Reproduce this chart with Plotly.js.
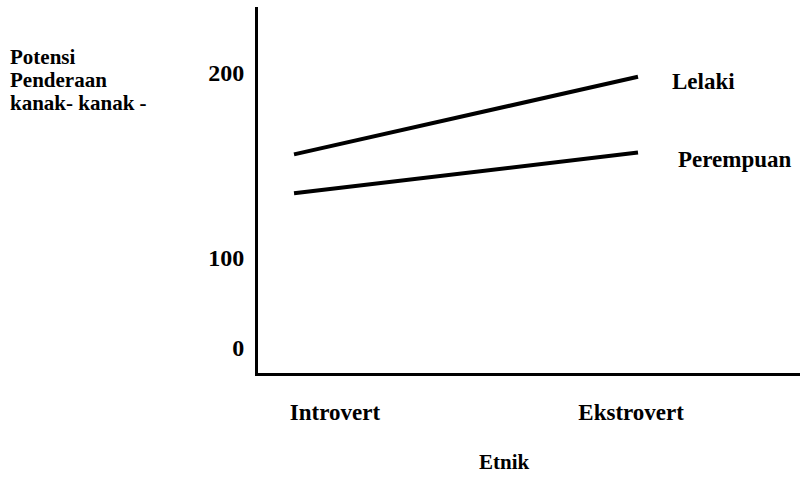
<!DOCTYPE html>
<html>
<head>
<meta charset="utf-8">
<script src="https://cdn.plot.ly/plotly-3.0.1.min.js"></script>
<style>html,body{margin:0;padding:0;background:#fff;}#chart{width:804px;height:485px;}</style>
</head>
<body>
<div id="chart"></div>
<script>
// Data
const categories = ['Introvert', 'Ekstrovert'];
const seriesNames = ['Lelaki', 'Perempuan'];
const lelaki = [156, 198];
const perempuan = [135, 157];
const yTickLabels = ['0', '100', '200'];
const yTitleLines = ['Potensi', 'Penderaan', 'kanak- kanak -'];
const xTitle = 'Etnik';

// Layout constants (positions/styles)
const FONT = '"Liberation Serif", "Times New Roman", serif';
const lineX = [0, 1];               // category index of line end points
const xTickPos = [0.119, 0.98];     // where the category labels sit
const yTickPos = [51.4, 100, 200];  // schematic (broken) axis tick positions

const traces = [
  {x: lineX, y: lelaki, name: seriesNames[0], mode: 'lines', line: {color: '#000', width: 4}, hoverinfo: 'skip'},
  {x: lineX, y: perempuan, name: seriesNames[1], mode: 'lines', line: {color: '#000', width: 4}, hoverinfo: 'skip'}
];

const bold = (size) => ({family: FONT, size: size, color: '#000', weight: 'bold'});

const annotations = [
  {x: 1, y: lelaki[1], xref: 'x', yref: 'y', text: seriesNames[0], showarrow: false,
   xanchor: 'left', yanchor: 'middle', xshift: 32, yshift: -5, font: bold(23)},
  {x: 1, y: perempuan[1], xref: 'x', yref: 'y', text: seriesNames[1], showarrow: false,
   xanchor: 'left', yanchor: 'middle', xshift: 38, yshift: -7, font: bold(23)}
];

const plotTop = 7, plotL = 258, plotW = 804 - 258 - 4, plotH = 485 - 7 - 112;
const px2paperX = (px) => (px - plotL) / plotW;
const px2paperY = (py) => (plotTop + plotH - py) / plotH;

yTitleLines.forEach((t, i) => {
  annotations.push({x: px2paperX(8), y: px2paperY(57 + 23 * i),
    xref: 'paper', yref: 'paper', text: t, showarrow: false,
    xanchor: 'left', yanchor: 'middle', font: bold(21)});
});
annotations.push({x: px2paperX(504), y: px2paperY(462), xref: 'paper', yref: 'paper',
  text: xTitle, showarrow: false, xanchor: 'center', yanchor: 'middle', font: bold(21)});

const layout = {
  width: 804, height: 485,
  margin: {l: 258, r: 4, t: 7, b: 112},
  paper_bgcolor: '#fff', plot_bgcolor: '#fff',
  showlegend: false,
  font: bold(23),
  xaxis: {
    range: [-0.1047, 1.471],
    tickvals: xTickPos, ticktext: categories,
    showgrid: false, zeroline: false,
    showline: true, linecolor: '#000', linewidth: 3,
    ticks: '', ticklabelstandoff: 16,
    tickfont: bold(23)
  },
  yaxis: {
    range: [37.8, 235.7],
    tickvals: yTickPos, ticktext: yTickLabels,
    showgrid: false, zeroline: false,
    showline: true, linecolor: '#000', linewidth: 3,
    ticks: '', ticklabelstandoff: 6,
    tickfont: bold(24)
  },
  annotations: annotations
};

Plotly.newPlot('chart', traces, layout, {displayModeBar: false, staticPlot: true});
</script>
</body>
</html>
